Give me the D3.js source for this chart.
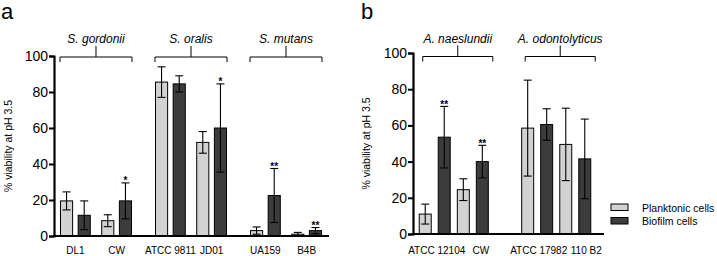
<!DOCTYPE html>
<html>
<head>
<meta charset="utf-8">
<script src="https://cdn.jsdelivr.net/npm/d3@7"></script>
<style>
  body { margin: 0; background: #fff; }
  svg { display: block; font-family: "Liberation Sans", Arial, sans-serif; }
</style>
</head>
<body>
<svg id="chart" width="717" height="256"></svg>
<script>
// ---- data ----
const yTicks = [0, 20, 40, 60, 80, 100];
const seriesNames = ['Planktonic cells', 'Biofilm cells'];

const groupsA = ['S. gordonii', 'S. oralis', 'S. mutans'];
const strainsA = [['DL1', 'CW'], ['ATCC 9811', 'JD01'], ['UA159', 'B4B']];
const planktonicA = [19.5, 8.5, 85.5, 52, 3, 1];
const planktonicErrA = [5, 3.3, 8.5, 6, 2, 1];
const biofilmA = [11.5, 19.5, 84.5, 60, 22.5, 3];
const biofilmErrA = [8, 10, 4.5, 24.5, 15, 1.7];
const starsA = ['', '*', '', '*', '**', '**'];

const groupsB = ['A. naeslundii', 'A. odontolyticus'];
const strainsB = [['ATCC 12104', 'CW'], ['ATCC 17982', '110 B2']];
const planktonicB = [11, 24.5, 58.5, 49.5];
const planktonicErrB = [5.5, 6, 26.5, 20];
const biofilmB = [53.5, 40, 60.5, 41.5];
const biofilmErrB = [17, 9, 8.7, 22];
const starsB = ['**', '**', '', ''];

const colors = ['#d2d2d2', '#3c3c3c'];

const svg = d3.select('#chart');

function drawPanel(p) {
  const g = svg.append('g');
  const y = d3.scaleLinear().domain([0, 100]).range([p.y0, p.y100]);

  const x0 = d3.scaleBand().domain(p.groups).range(p.xRange)
    .paddingInner(p.groupPad).paddingOuter(p.outerPad);
  const x1 = d3.scaleBand().domain([0, 1]).range([0, x0.bandwidth()])
    .paddingInner(p.strainPad);
  const x2 = d3.scaleBand().domain(seriesNames).range([0, x1.bandwidth()])
    .paddingInner(p.barPad);

  // flatten strains into rows
  const rows = [];
  p.groups.forEach((grp, gi) => {
    p.strains[gi].forEach((s, si) => {
      const k = rows.length;
      rows.push({
        group: grp, strain: s,
        x: x0(grp) + x1(si),
        vals: [
          { key: seriesNames[0], v: p.plank[k], e: p.plankErr[k], star: '' },
          { key: seriesNames[1], v: p.bio[k], e: p.bioErr[k], star: p.stars[k] }
        ]
      });
    });
  });

  // y axis
  const yAxis = g.append('g')
    .attr('transform', `translate(${p.axisX},0)`)
    .call(d3.axisLeft(y).tickValues(yTicks).tickSize(5).tickPadding(1));
  yAxis.select('.domain').attr('stroke', '#000').attr('stroke-width', 2.2);
  yAxis.selectAll('.tick line').attr('stroke', '#000').attr('stroke-width', 2);
  yAxis.selectAll('.tick text').attr('font-size', 14).attr('fill', '#000')
    .attr('font-family', '"Liberation Sans", Arial, sans-serif');

  // bars
  rows.forEach(r => {
    const bg = g.append('g').attr('transform', `translate(${r.x},0)`);
    bg.selectAll('rect').data(r.vals).enter().append('rect')
      .attr('x', d => x2(d.key) + 0.5)
      .attr('y', d => y(d.v))
      .attr('width', x2.bandwidth() - 1)
      .attr('height', d => y(0) - y(d.v))
      .attr('fill', (d, i) => colors[i])
      .attr('stroke', '#000').attr('stroke-width', 1);

    r.vals.forEach(d => {
      const cx = x2(d.key) + x2.bandwidth() / 2;
      const top = y(d.v + d.e), bot = y(Math.max(0, d.v - d.e));
      bg.append('line').attr('x1', cx).attr('x2', cx).attr('y1', top).attr('y2', bot)
        .attr('stroke', '#000').attr('stroke-width', 1.1);
      [top, bot].forEach(yy => bg.append('line')
        .attr('x1', cx - 4).attr('x2', cx + 4).attr('y1', yy).attr('y2', yy)
        .attr('stroke', '#000').attr('stroke-width', 1.1));
      if (d.star) {
        bg.append('text').attr('x', cx).attr('y', top + 1.5)
          .attr('text-anchor', 'middle').attr('font-size', 10).attr('font-weight', 'bold')
          .text(d.star);
      }
    });

    const shift = p.labelShift[r.strain] || [0, 10];
    g.append('text')
      .attr('x', r.x + x1.bandwidth() / 2 + shift[0])
      .attr('y', 254)
      .attr('text-anchor', 'middle').attr('font-size', shift[1])
      .text(r.strain);
  });

  // x axis line
  g.append('line').attr('x1', p.axisX - 1).attr('x2', p.axisEnd)
    .attr('y1', y(0)).attr('y2', y(0)).attr('stroke', '#000').attr('stroke-width', 2.2);

  // group brackets
  p.groups.forEach(grp => {
    const a = x0(grp) + p.bracketShift, b = a + x0.bandwidth(), m = (a + b) / 2;
    g.append('path')
      .attr('d', `M${a},${p.bracketY + 5}V${p.bracketY}H${b}V${p.bracketY + 5}M${m},${p.bracketY}V${p.bracketY - 11}`)
      .attr('fill', 'none').attr('stroke', '#000').attr('stroke-width', 1);
    g.append('text').attr('x', m).attr('y', p.bracketY - 14)
      .attr('text-anchor', 'middle').attr('font-size', 12).attr('font-style', 'italic')
      .text(grp);
  });

  // y label
  g.append('text')
    .attr('transform', `translate(${p.ylabelX},${(p.y0 + p.y100) / 2}) rotate(-90)`)
    .attr('text-anchor', 'middle').attr('font-size', 10.5)
    .text('% viability at pH 3.5');

  // panel letter
  g.append('text').attr('x', p.letterX).attr('y', 19).attr('font-size', 22)
    .text(p.letter);
}

drawPanel({
  letter: 'a', letterX: 1, ylabelX: 12,
  groups: groupsA, strains: strainsA,
  plank: planktonicA, plankErr: planktonicErrA,
  bio: biofilmA, bioErr: biofilmErrA, stars: starsA,
  y0: 236, y100: 56, axisX: 54, axisEnd: 329,
  xRange: [54, 328], groupPad: 0.242, outerPad: 0.063,
  strainPad: 0.253, barPad: 0.257,
  bracketY: 57, bracketShift: 0, labelShift: {}
});

drawPanel({
  letter: 'b', letterX: 361, ylabelX: 370,
  groups: groupsB, strains: strainsB,
  plank: planktonicB, plankErr: planktonicErrB,
  bio: biofilmB, bioErr: biofilmErrB, stars: starsB,
  y0: 234, y100: 53, axisX: 413, axisEnd: 604,
  xRange: [413, 597], groupPad: 0.316, outerPad: 0.056,
  strainPad: 0.16, barPad: 0.316,
  bracketY: 56.5, bracketShift: 4,
  labelShift: { 'ATCC 12104': [2, 10], 'CW': [8, 10], 'ATCC 17982': [1.5, 10], '110 B2': [11, 10] }
});

// legend
const legend = svg.append('g').attr('transform', 'translate(611,204)');
seriesNames.forEach((name, i) => {
  const row = legend.append('g').attr('transform', `translate(0,${i * 13.5})`);
  row.append('rect').attr('width', 17).attr('height', 6.5)
    .attr('fill', colors[i]).attr('stroke', '#000').attr('stroke-width', 1);
  row.append('text').attr('x', 31).attr('y', 7.5).attr('font-size', 10.5).text(name);
});
</script>
</body>
</html>
